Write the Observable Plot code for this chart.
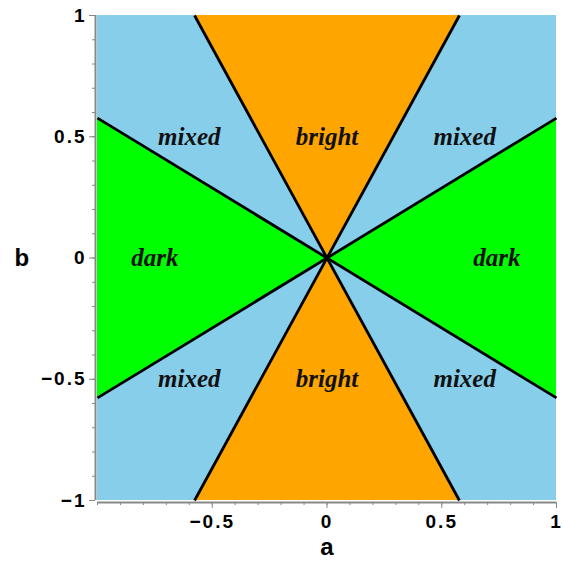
<!DOCTYPE html>
<html><head><meta charset="utf-8">
<script src="https://cdn.jsdelivr.net/npm/d3@7"></script>
<script src="https://cdn.jsdelivr.net/npm/@observablehq/plot@0.6"></script>
<style>body{margin:0;background:#fff}</style>
</head><body><div id="chart"></div>
<script>
const domainA = [-1, 1];
const domainB = [-1, 1];
const xTicks = [-0.5, 0, 0.5, 1];
const yTicks = [-1, -0.5, 0, 0.5, 1];
const minorTicks = d3.range(-10, 11).map(i => i / 10);
// region boundaries (cones through origin)
const darkRight = [{a: 0, lo: 0, hi: 0}, {a: 1, lo: -0.577, hi: 0.577}];
const darkLeft = [{a: -1, lo: -0.577, hi: 0.577}, {a: 0, lo: 0, hi: 0}];
const brightTop = [{b: 0, lo: 0, hi: 0}, {b: 1, lo: -0.577, hi: 0.577}];
const brightBottom = [{b: -1, lo: -0.577, hi: 0.577}, {b: 0, lo: 0, hi: 0}];
const boundaryLines = [
  {a1: -1, b1: 0.577, a2: 1, b2: -0.577},
  {a1: -1, b1: -0.577, a2: 1, b2: 0.577},
  {a1: -0.577, b1: 1, a2: 0.577, b2: -1},
  {a1: -0.577, b1: -1, a2: 0.577, b2: 1}
];
const labels = [
  {a: -0.6, b: 0.5, text: "mixed"}, {a: 0, b: 0.5, text: "bright"}, {a: 0.6, b: 0.5, text: "mixed"},
  {a: -0.75, b: 0, text: "dark"}, {a: 0.74, b: 0, text: "dark"},
  {a: -0.6, b: -0.5, text: "mixed"}, {a: 0, b: -0.5, text: "bright"}, {a: 0.6, b: -0.5, text: "mixed"}
];
const background = [{a1: -1, a2: 1, b1: -1, b2: 1}];

const fmt = d => (d < 0 ? "\u2212" : "") + String(Math.abs(d));
const tickFont = {fontFamily: "Liberation Sans", fontWeight: "bold", fontSize: 19, tickFormat: fmt};

const chart = Plot.plot({
  width: 563, height: 563,
  marginLeft: 97, marginRight: 7, marginTop: 15, marginBottom: 63,
  x: {domain: domainA},
  y: {domain: domainB},
  style: {background: "white"},
  marks: [
    Plot.rect(background, {x1: "a1", x2: "a2", y1: "b1", y2: "b2", fill: "#87ceeb"}),
    Plot.areaY(darkRight, {x: "a", y1: "lo", y2: "hi", fill: "#00ff00"}),
    Plot.areaY(darkLeft, {x: "a", y1: "lo", y2: "hi", fill: "#00ff00"}),
    Plot.areaX(brightTop, {y: "b", x1: "lo", x2: "hi", fill: "#ffa500"}),
    Plot.areaX(brightBottom, {y: "b", x1: "lo", x2: "hi", fill: "#ffa500"}),
    Plot.link(boundaryLines, {x1: "a1", y1: "b1", x2: "a2", y2: "b2", stroke: "black", strokeWidth: 2.8}),
    Plot.text(labels, {x: "a", y: "b", text: "text", fontFamily: "Liberation Serif", fontStyle: "italic", fontWeight: "bold", fontSize: 25, fill: "#111"}),
    // axis lines
    Plot.ruleX([-1], {stroke: "#888", strokeWidth: 2, dx: -2, y1: -1, y2: 1}),
    Plot.ruleY([-1], {stroke: "#888", strokeWidth: 2, dy: 2, x1: -1, x2: 1}),
    Plot.axisX(minorTicks, {tickSize: 3, text: null, stroke: "#888", dy: 2}),
    Plot.axisY(minorTicks, {tickSize: 3, text: null, stroke: "#888", dx: -2}),
    Plot.axisX(xTicks, {tickSize: 6, tickPadding: 6, stroke: "#888", dy: 2, fill: "black", label: null, ...tickFont}),
    Plot.axisY(yTicks, {tickSize: 6, tickPadding: 3, stroke: "#888", dx: -2, fill: "black", label: null, ...tickFont}),
    Plot.text(["a"], {frameAnchor: "bottom", dy: 54, text: d => d, fontFamily: "Liberation Sans", fontWeight: "bold", fontSize: 24}),
    Plot.text(["b"], {frameAnchor: "left", dx: -83, text: d => d, fontFamily: "Liberation Sans", fontWeight: "bold", fontSize: 24})
  ]
});
d3.select(chart).selectAll("g[aria-label='x-axis tick label'] text, g[aria-label='y-axis tick label'] text").style("letter-spacing", "2px");
document.getElementById("chart").append(chart);
</script>
</body></html>
